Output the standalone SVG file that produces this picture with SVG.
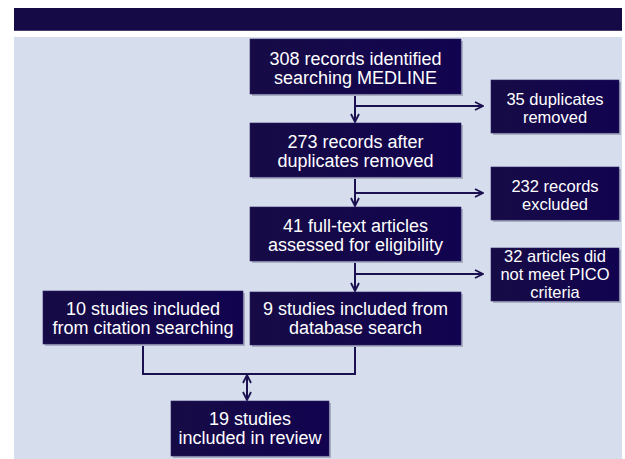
<svg xmlns="http://www.w3.org/2000/svg" width="625" height="459" viewBox="0 0 625 459">
  <defs>
    <linearGradient id="boxfill" x1="0" y1="0" x2="1" y2="0">
      <stop offset="0" stop-color="#170b46"/>
      <stop offset="1" stop-color="#11034f"/>
    </linearGradient>
    <marker id="arrow" viewBox="0 0 10 10" refX="9" refY="5" markerWidth="10" markerHeight="10" markerUnits="userSpaceOnUse" orient="auto-start-reverse">
      <path d="M1,1 L9,5 L1,9" fill="none" stroke="#1b1150" stroke-width="1.8"/>
    </marker>
  </defs>
  <style>
    .box { fill: url(#boxfill); stroke: #2a2060; stroke-width: 0.6; }
    .shadow { fill: #a9adc4; }
    .t { font-family: "Liberation Sans", Arial, sans-serif; fill: #ffffff; text-anchor: middle; }
    .m { font-size: 18px; }
    .s { font-size: 16.5px; }
    .c { fill: none; stroke: #1b1150; stroke-width: 2; }
  </style>
  <rect x="0" y="0" width="625" height="459" fill="#ffffff"/>
  <rect x="14" y="8" width="608" height="23" fill="#150a45"/>
  <rect x="14" y="30" width="608" height="1" fill="#4a3f70"/>
  <rect x="14" y="37" width="608" height="422" fill="#d6ddec"/>

  <g id="connectors">
    <line class="c" x1="355" y1="94" x2="355" y2="122" marker-end="url(#arrow)"/>
    <line class="c" x1="355" y1="106" x2="483" y2="106" marker-end="url(#arrow)"/>
    <line class="c" x1="355" y1="177" x2="355" y2="206" marker-end="url(#arrow)"/>
    <line class="c" x1="355" y1="193" x2="483" y2="193" marker-end="url(#arrow)"/>
    <line class="c" x1="355" y1="261" x2="355" y2="291" marker-end="url(#arrow)"/>
    <line class="c" x1="355" y1="274" x2="483" y2="274" marker-end="url(#arrow)"/>
    <polyline class="c" points="355,345 355,374 143,374 143,344"/>
    <line class="c" x1="247" y1="375" x2="247" y2="400" marker-start="url(#arrow)" marker-end="url(#arrow)"/>
  </g>

  <g id="n1">
    <rect class="shadow" x="252" y="41" width="211" height="55"/>
    <rect class="box" x="250" y="39" width="211" height="55"/>
    <text class="t m" x="355.5" y="64.5">308 records identified</text>
    <text class="t m" x="355.5" y="83.5">searching MEDLINE</text>
  </g>
  <g id="n2">
    <rect class="shadow" x="493" y="82" width="128" height="53"/>
    <rect class="box" x="491" y="80" width="128" height="53"/>
    <text class="t s" x="555" y="105">35 duplicates</text>
    <text class="t s" x="555" y="123">removed</text>
  </g>
  <g id="n3">
    <rect class="shadow" x="252" y="125" width="211" height="54"/>
    <rect class="box" x="250" y="123" width="211" height="54"/>
    <text class="t m" x="355.5" y="147.5">273 records after</text>
    <text class="t m" x="355.5" y="166.5">duplicates removed</text>
  </g>
  <g id="n4">
    <rect class="shadow" x="493" y="169" width="128" height="53"/>
    <rect class="box" x="491" y="167" width="128" height="53"/>
    <text class="t s" x="555" y="192">232 records</text>
    <text class="t s" x="555" y="210">excluded</text>
  </g>
  <g id="n5">
    <rect class="shadow" x="252" y="209" width="211" height="54"/>
    <rect class="box" x="250" y="207" width="211" height="54"/>
    <text class="t m" x="355.5" y="232">41 full-text articles</text>
    <text class="t m" x="355.5" y="251">assessed for eligibility</text>
  </g>
  <g id="n6">
    <rect class="shadow" x="493" y="250" width="128" height="53"/>
    <rect class="box" x="491" y="248" width="128" height="53"/>
    <text class="t s" x="555" y="262">32 articles did</text>
    <text class="t s" x="555" y="280">not meet PICO</text>
    <text class="t s" x="555" y="298">criteria</text>
  </g>
  <g id="n7">
    <rect class="shadow" x="45" y="293" width="200" height="53"/>
    <rect class="box" x="43" y="291" width="200" height="53"/>
    <text class="t m" x="143" y="314.5">10 studies included</text>
    <text class="t m" x="143" y="333.5">from citation searching</text>
  </g>
  <g id="n8">
    <rect class="shadow" x="252" y="294" width="211" height="53"/>
    <rect class="box" x="250" y="292" width="211" height="53"/>
    <text class="t m" x="355.5" y="315">9 studies included from</text>
    <text class="t m" x="355.5" y="334">database search</text>
  </g>
  <g id="n9">
    <rect class="shadow" x="173" y="403" width="158" height="55"/>
    <rect class="box" x="171" y="401" width="158" height="55"/>
    <text class="t m" x="250" y="424.5">19 studies</text>
    <text class="t m" x="250" y="443.5">included in review</text>
  </g>
</svg>
